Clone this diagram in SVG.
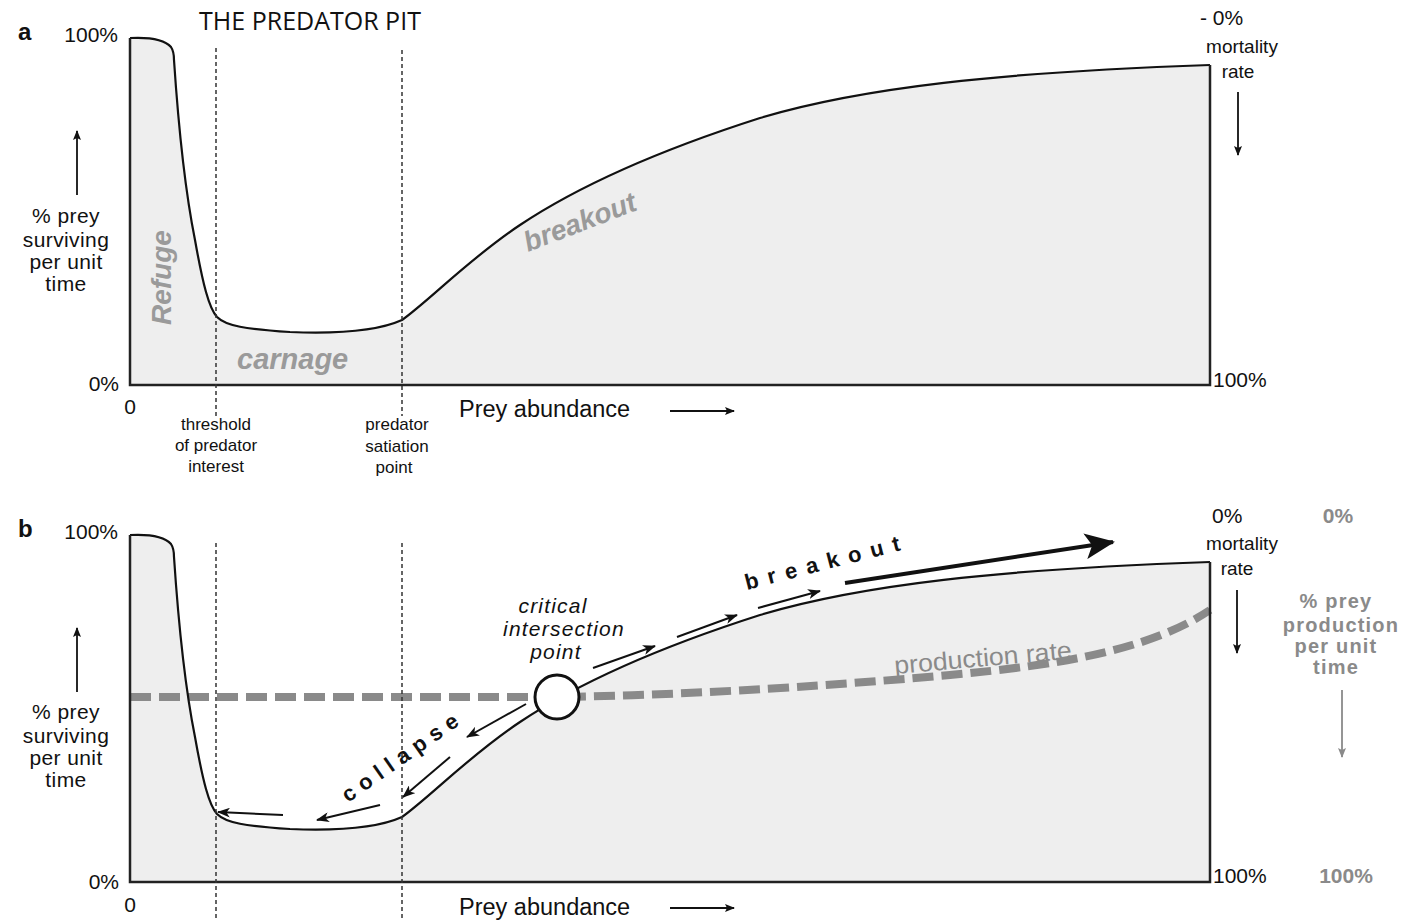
<svg xmlns="http://www.w3.org/2000/svg" width="1424" height="920" viewBox="0 0 1424 920">
<style>
text{font-family:"Liberation Sans",Arial,sans-serif;fill:#111}
.lbl{font-size:21px;letter-spacing:0.4px}
.sm{font-size:17px;text-anchor:middle}
.pct{font-size:21px}
.mid{text-anchor:middle}
.gl{fill:#9a9a9a;font-weight:bold;font-style:italic;font-size:28px}
.gr{fill:#8a8a8a}
.fill{fill:#eeeeee;stroke:none}
.curve{fill:none;stroke:#111;stroke-width:2.2}
.axis{fill:none;stroke:#222;stroke-width:2.5}
.vdash{stroke:#333;stroke-width:1.5;stroke-dasharray:4 3;fill:none}
.prod{fill:none;stroke:#8a8a8a;stroke-width:8;stroke-dasharray:21 8}
.arr{stroke:#111;stroke-width:2;fill:none;marker-end:url(#ah)}
.ax{stroke:#111;stroke-width:1.8;fill:none;marker-end:url(#ahAxis)}
.axg{stroke:#8a8a8a;stroke-width:1.8;fill:none;marker-end:url(#ahGray)}
.spaced{font-weight:bold;font-size:22px}
</style>
<defs>
<path id="crv" d="M130,38 C150,37 165,40 171,47 C173,50 174,55 174,60 C178,120 185,190 195,240 C203,285 209,308 217,317 C226,326 245,329 290,332 C340,334 380,330 402,320 C430,300 470,258 520,225 C580,185 660,150 760,118 C860,88 1000,72 1210,65"/>
<marker id="ah" viewBox="0 0 13 10" refX="12" refY="5" markerWidth="13" markerHeight="10" markerUnits="userSpaceOnUse" orient="auto"><path d="M0,0 L13,5 L0,10 L3.5,5 Z" fill="#111"/></marker>
<marker id="ahBig" viewBox="0 0 30 26" refX="28" refY="13" markerWidth="30" markerHeight="26" markerUnits="userSpaceOnUse" orient="auto"><path d="M0,0 L30,13 L0,26 L7,13 Z" fill="#111"/></marker>
<marker id="ahAxis" viewBox="0 0 10 8" refX="9" refY="4" markerWidth="10" markerHeight="8" markerUnits="userSpaceOnUse" orient="auto"><path d="M0,0 L10,4 L0,8 L2,4 Z" fill="#111"/></marker>
<marker id="ahGray" viewBox="0 0 10 8" refX="9" refY="4" markerWidth="10" markerHeight="8" markerUnits="userSpaceOnUse" orient="auto"><path d="M0,0 L10,4 L0,8 L2,4 Z" fill="#8a8a8a"/></marker>
</defs>
<rect width="1424" height="920" fill="#ffffff"/>

<g id="panel-a">
  <path class="fill" d="M130,38 C150,37 165,40 171,47 C173,50 174,55 174,60 C178,120 185,190 195,240 C203,285 209,308 217,317 C226,326 245,329 290,332 C340,334 380,330 402,320 C430,300 470,258 520,225 C580,185 660,150 760,118 C860,88 1000,72 1210,65 L1210,385 L130,385 Z"/>
  <use href="#crv" class="curve"/>
  <path class="axis" d="M130,38 L130,385 L1210,385 L1210,65"/>
  <line class="vdash" x1="216" y1="48" x2="216" y2="418"/>
  <line class="vdash" x1="402" y1="50" x2="402" y2="416"/>
  <text x="18" y="40" style="font-weight:bold;font-size:24px">a</text>
  <text x="118" y="42" class="pct" text-anchor="end">100%</text>
  <text x="119" y="391" class="pct" text-anchor="end">0%</text>
  <text x="130" y="414" class="pct mid">0</text>
  <text x="310" y="30" style="font-family:'Open Sans','Liberation Sans',sans-serif;font-size:25px" text-anchor="middle">THE PREDATOR PIT</text>
  <text class="lbl mid"><tspan x="66" y="223">% prey</tspan><tspan x="66" y="247">surviving</tspan><tspan x="66" y="269">per unit</tspan><tspan x="66" y="291">time</tspan></text>
  <text class="gl" transform="translate(171,325) rotate(-90)">Refuge</text>
  <text class="gl" x="237" y="369" style="font-size:29px">carnage</text>
  <text class="gl" transform="translate(528,252) rotate(-21)">breakout</text>
  <text class="sm"><tspan x="216" y="430">threshold</tspan><tspan x="216" y="451">of predator</tspan><tspan x="216" y="472">interest</tspan></text>
  <text class="sm"><tspan x="397" y="430">predator</tspan><tspan x="397" y="452">satiation</tspan><tspan x="394" y="473">point</tspan></text>
  <text x="459" y="417" style="font-size:23.5px">Prey abundance</text>
  <text x="1200" y="25" class="pct">- 0%</text>
  <text class="mid" style="font-size:19px"><tspan x="1242" y="53">mortality</tspan><tspan x="1238" y="78">rate</tspan></text>
  <text x="1213" y="387" class="pct">100%</text>
</g>

<g id="panel-b" transform="translate(0,497)">
  <path class="fill" d="M130,38 C150,37 165,40 171,47 C173,50 174,55 174,60 C178,120 185,190 195,240 C203,285 209,308 217,317 C226,326 245,329 290,332 C340,334 380,330 402,320 C430,300 470,258 520,225 C580,185 660,150 760,118 C860,88 1000,72 1210,65 L1210,385 L130,385 Z"/>
  <path class="prod" d="M130,200 L560,200 C700,198 850,187 950,178 C1060,168 1150,153 1210,113"/>
  <use href="#crv" class="curve"/>
  <path class="axis" d="M130,38 L130,385 L1210,385 L1210,65"/>
  <line class="vdash" x1="216" y1="46" x2="216" y2="423"/>
  <line class="vdash" x1="402" y1="46" x2="402" y2="423"/>
  <text x="18" y="40" style="font-weight:bold;font-size:24px">b</text>
  <text x="118" y="42" class="pct" text-anchor="end">100%</text>
  <text x="119" y="392" class="pct" text-anchor="end">0%</text>
  <text x="130" y="415" class="pct mid">0</text>
  <text class="lbl mid"><tspan x="66" y="222">% prey</tspan><tspan x="66" y="246">surviving</tspan><tspan x="66" y="268">per unit</tspan><tspan x="66" y="290">time</tspan></text>
  <text x="459" y="418" style="font-size:23.5px">Prey abundance</text>
  <text x="1212" y="26" class="pct">0%</text>
  <text class="mid" style="font-size:19px"><tspan x="1242" y="53">mortality</tspan><tspan x="1237" y="78">rate</tspan></text>
  <text x="1213" y="386" class="pct">100%</text>
  <text x="1338" y="26" class="pct mid gr" style="font-weight:bold">0%</text>
  <text class="mid gr" style="font-size:20px;font-weight:bold;letter-spacing:1.2px"><tspan x="1336" y="111">% prey</tspan><tspan x="1341" y="135">production</tspan><tspan x="1336" y="156">per unit</tspan><tspan x="1336" y="177">time</tspan></text>
  <text x="1346" y="386" class="pct mid gr" style="font-weight:bold">100%</text>
  <text class="mid" style="font-style:italic;font-size:21px;letter-spacing:1.2px"><tspan x="553" y="116">critical</tspan><tspan x="564" y="139">intersection</tspan><tspan x="556" y="162">point</tspan></text>
  <text class="spaced" transform="translate(747,93) rotate(-14.5)" letter-spacing="9.5">breakout</text>
  <text class="spaced" transform="translate(348,306) rotate(-35)" letter-spacing="7">collapse</text>
  <text class="gr" transform="translate(895,177) rotate(-5)" style="font-size:25px" textLength="178" lengthAdjust="spacingAndGlyphs">production rate</text>
  <g id="critical-point">
    <circle cx="557" cy="200" r="22" fill="#ffffff" stroke="#111" stroke-width="3"/>
  </g>
</g>

<g id="connectors">
  <line class="ax" x1="77" y1="195" x2="77" y2="131"/>
  <line class="ax" x1="670" y1="411" x2="734" y2="411"/>
  <line class="ax" x1="1238" y1="92" x2="1238" y2="155"/>
  <line class="ax" x1="77" y1="692" x2="77" y2="628"/>
  <line class="ax" x1="670" y1="908" x2="734" y2="908"/>
  <line class="ax" x1="1237" y1="590" x2="1237" y2="653"/>
  <line class="axg" x1="1342" y1="690" x2="1342" y2="757"/>
  <line class="arr" x1="593" y1="668" x2="655" y2="646"/>
  <line class="arr" x1="677" y1="637" x2="737" y2="615"/>
  <line class="arr" x1="758" y1="608" x2="820" y2="591"/>
  <line x1="845" y1="583" x2="1113" y2="542" stroke="#111" stroke-width="4" marker-end="url(#ahBig)"/>
  <line class="arr" x1="526" y1="704" x2="467" y2="737"/>
  <line class="arr" x1="450" y1="757" x2="403" y2="797"/>
  <line class="arr" x1="380" y1="805" x2="317" y2="820"/>
  <line class="arr" x1="283" y1="815" x2="218" y2="812"/>
</g>
</svg>
